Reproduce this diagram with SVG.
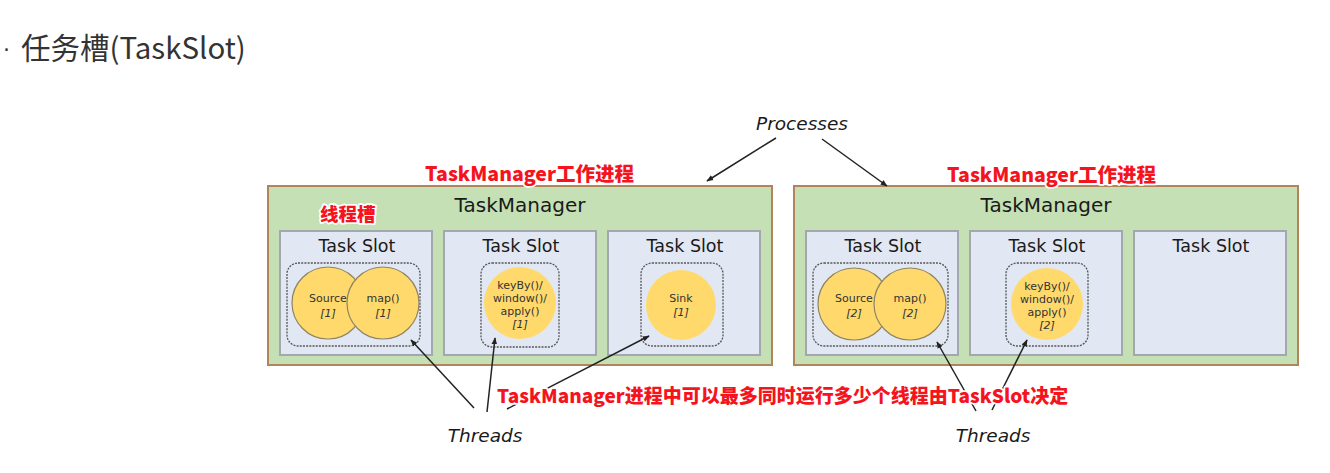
<svg xmlns="http://www.w3.org/2000/svg" width="1330" height="473" viewBox="0 0 1330 473">
<defs>
<marker id="ah" viewBox="0 0 10 10" refX="9" refY="5" markerWidth="7" markerHeight="7" orient="auto" markerUnits="userSpaceOnUse">
<path d="M0,1 L10,5 L0,9 z" fill="#222"/>
</marker>
<style>
.tm{fill:#c5e0b4;stroke:#b08559;stroke-width:2}
.slot{fill:#e2e8f3;stroke:#a3a8ae;stroke-width:2}
.dash{fill:none;stroke:#555;stroke-width:1.3;stroke-dasharray:2 1.2}
.op{fill:#ffd96c;stroke:#8e8463;stroke-width:1.2}
.opn{fill:#ffd96c}
.tmt{font-family:"DejaVu Sans",Verdana,sans-serif;font-size:20px;fill:#1a1a1a;text-anchor:middle}
.st{font-family:"DejaVu Sans",Verdana,sans-serif;font-size:17.5px;fill:#1a1a1a;text-anchor:middle}
.ot{font-family:"DejaVu Sans",Verdana,sans-serif;font-size:11px;fill:#333;text-anchor:middle}
.oi{font-style:italic}
.lbl{font-family:"DejaVu Sans",Verdana,sans-serif;font-style:italic;font-size:18.5px;fill:#1a1a1a;text-anchor:middle}
.red{font-family:"Noto Sans CJK SC",sans-serif;font-weight:900;fill:#f5141e;stroke:#fff;stroke-width:3.5;paint-order:stroke;stroke-linejoin:round}
.ttl{font-family:"Noto Sans CJK SC",sans-serif;font-size:29.5px;fill:#333}
.con{stroke:#222;stroke-width:1.5;fill:none;marker-end:url(#ah)}
</style>
</defs>
<rect width="1330" height="473" fill="#fff"/>
<text x="3" y="57" font-family="DejaVu Sans, sans-serif" font-size="22" fill="#333">·</text>
<text class="ttl" x="21" y="59">任务槽(TaskSlot)</text>

<g id="tm1">
<rect class="tm" x="268" y="186" width="504" height="179"/>
<text class="tmt" x="520" y="212">TaskManager</text>
</g>
<g id="slot1">
<rect class="slot" x="280" y="231" width="152" height="124"/>
<text class="st" x="357" y="252">Task Slot</text>
<rect class="dash" x="287" y="263" width="133" height="83" rx="11"/>
<circle class="op" cx="328" cy="303" r="36"/>
<circle class="op" cx="383" cy="303" r="36"/>
<text class="ot" x="328" y="302">Source</text>
<text class="ot oi" x="328" y="317">[1]</text>
<text class="ot" x="383" y="302">map()</text>
<text class="ot oi" x="383" y="317">[1]</text>
</g>
<g id="slot2">
<rect class="slot" x="444" y="231" width="152" height="124"/>
<text class="st" x="521" y="252">Task Slot</text>
<rect class="dash" x="481" y="263" width="78" height="84" rx="11"/>
<circle class="opn" cx="520" cy="303" r="36"/>
<text class="ot" x="520" y="289">keyBy()/</text>
<text class="ot" x="520" y="302">window()/</text>
<text class="ot" x="520" y="315">apply()</text>
<text class="ot oi" x="520" y="328">[1]</text>
</g>
<g id="slot3">
<rect class="slot" x="608" y="231" width="152" height="124"/>
<text class="st" x="685" y="252">Task Slot</text>
<rect class="dash" x="641" y="263" width="82" height="83" rx="11"/>
<circle class="opn" cx="681" cy="305" r="35"/>
<text class="ot" x="681" y="302">Sink</text>
<text class="ot oi" x="681" y="316">[1]</text>
</g>

<g id="tm2">
<rect class="tm" x="794" y="186" width="504" height="179"/>
<text class="tmt" x="1046" y="212">TaskManager</text>
</g>
<g id="slot4">
<rect class="slot" x="806" y="231" width="152" height="124"/>
<text class="st" x="883" y="252">Task Slot</text>
<rect class="dash" x="813" y="263" width="135" height="83" rx="11"/>
<circle class="op" cx="854" cy="304" r="36"/>
<circle class="op" cx="910" cy="304" r="36"/>
<text class="ot" x="854" y="302">Source</text>
<text class="ot oi" x="854" y="317">[2]</text>
<text class="ot" x="910" y="302">map()</text>
<text class="ot oi" x="910" y="317">[2]</text>
</g>
<g id="slot5">
<rect class="slot" x="970" y="231" width="152" height="124"/>
<text class="st" x="1047" y="252">Task Slot</text>
<rect class="dash" x="1006" y="263" width="82" height="83" rx="11"/>
<circle class="opn" cx="1047" cy="304" r="36"/>
<text class="ot" x="1047" y="290">keyBy()/</text>
<text class="ot" x="1047" y="303">window()/</text>
<text class="ot" x="1047" y="316">apply()</text>
<text class="ot oi" x="1047" y="329">[2]</text>
</g>
<g id="slot6">
<rect class="slot" x="1134" y="231" width="152" height="124"/>
<text class="st" x="1211" y="252">Task Slot</text>
</g>

<g id="connectors">
<line class="con" x1="776" y1="138" x2="707" y2="181"/>
<line class="con" x1="822" y1="139" x2="887" y2="186"/>
<line class="con" x1="474" y1="408" x2="411" y2="340"/>
<line class="con" x1="487" y1="412" x2="495" y2="338"/>
<line class="con" x1="507" y1="409" x2="649" y2="336"/>
<line class="con" x1="976" y1="411" x2="937" y2="342"/>
<line class="con" x1="992" y1="410" x2="1027" y2="340"/>
</g>

<g id="labels">
<text class="lbl" x="802" y="130">Processes</text>
<text class="lbl" x="485" y="442">Threads</text>
<text class="lbl" x="993" y="442">Threads</text>
<text class="red" x="425" y="181" font-size="19.5">TaskManager工作进程</text>
<text class="red" x="947" y="182" font-size="19.5">TaskManager工作进程</text>
<text class="red" x="320" y="221" font-size="18.5">线程槽</text>
<text class="red" x="497" y="403" font-size="19">TaskManager进程中可以最多同时运行多少个线程由TaskSlot决定</text>
</g>
</svg>
